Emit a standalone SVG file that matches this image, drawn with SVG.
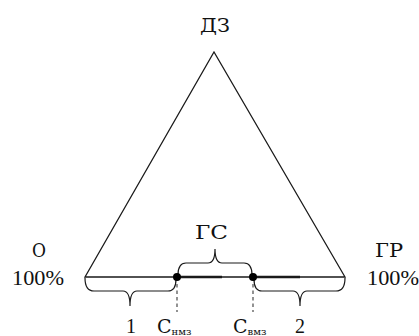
<svg xmlns="http://www.w3.org/2000/svg" width="419" height="336" viewBox="0 0 419 336">
<style>
.ln{fill:none;stroke:#1a1a1a;stroke-width:1.3;stroke-linejoin:miter}
.br{fill:none;stroke:#1a1a1a;stroke-width:1.2}
.thick{fill:none;stroke:#1a1a1a;stroke-width:2.6}
.dash{fill:none;stroke:#777;stroke-width:1.6;stroke-dasharray:3.5,3}
.t{font-family:"DejaVu Serif","Liberation Serif",serif;font-size:19px;fill:#111}
.n{font-family:"Liberation Serif","Times New Roman",serif;font-size:20px;fill:#111}
.s{font-family:"DejaVu Serif","Liberation Serif",serif;font-size:10px;fill:#111}
</style>
<rect width="419" height="336" fill="#fff"/>
<g id="triangle">
<path class="ln" d="M85,277 L214,52 L345,277 Z"/>
</g>
<g id="connectors">
<path class="thick" d="M177,277 L222,277 M253,277 L300,277"/>
<path class="br" d="M178,275 Q178,263 186,263 L208,263 Q215,263 215,249 Q215,263 222,263 L244,263 Q252,263 252,275"/>
<path class="br" d="M85,278 Q85,291 94,291 L123,291 Q130,291 130,306 Q130,291 137,291 L168,291 Q176,291 176,279"/>
<path class="br" d="M254,279 Q254,291 262,291 L293,291 Q300,291 300,306 Q300,291 307,291 L336,291 Q345,291 345,278"/>
<path class="dash" d="M177,284 L177,312 M253,284 L253,312"/>
</g>
<g id="points">
<circle cx="177" cy="277" r="4" fill="#000"/>
<circle cx="253" cy="277" r="4" fill="#000"/>
</g>
<g id="labels">
<text class="t" x="200" y="32" textLength="30" lengthAdjust="spacingAndGlyphs">ДЗ</text>
<text class="t" x="32" y="257" textLength="14" lengthAdjust="spacingAndGlyphs">О</text>
<text class="n" x="12" y="285" textLength="52" lengthAdjust="spacingAndGlyphs">100%</text>
<text class="t" x="375" y="257" textLength="28" lengthAdjust="spacingAndGlyphs">ГР</text>
<text class="n" x="367" y="285" textLength="52" lengthAdjust="spacingAndGlyphs">100%</text>
<text class="t" x="195" y="239" textLength="33" lengthAdjust="spacingAndGlyphs">ГС</text>
<text class="n" x="126" y="333">1</text>
<text class="t" x="157" y="333">С<tspan class="s" dy="2">нмз</tspan></text>
<text class="t" x="233" y="333">С<tspan class="s" dy="2">вмз</tspan></text>
<text class="n" x="295" y="333">2</text>
</g>
</svg>
